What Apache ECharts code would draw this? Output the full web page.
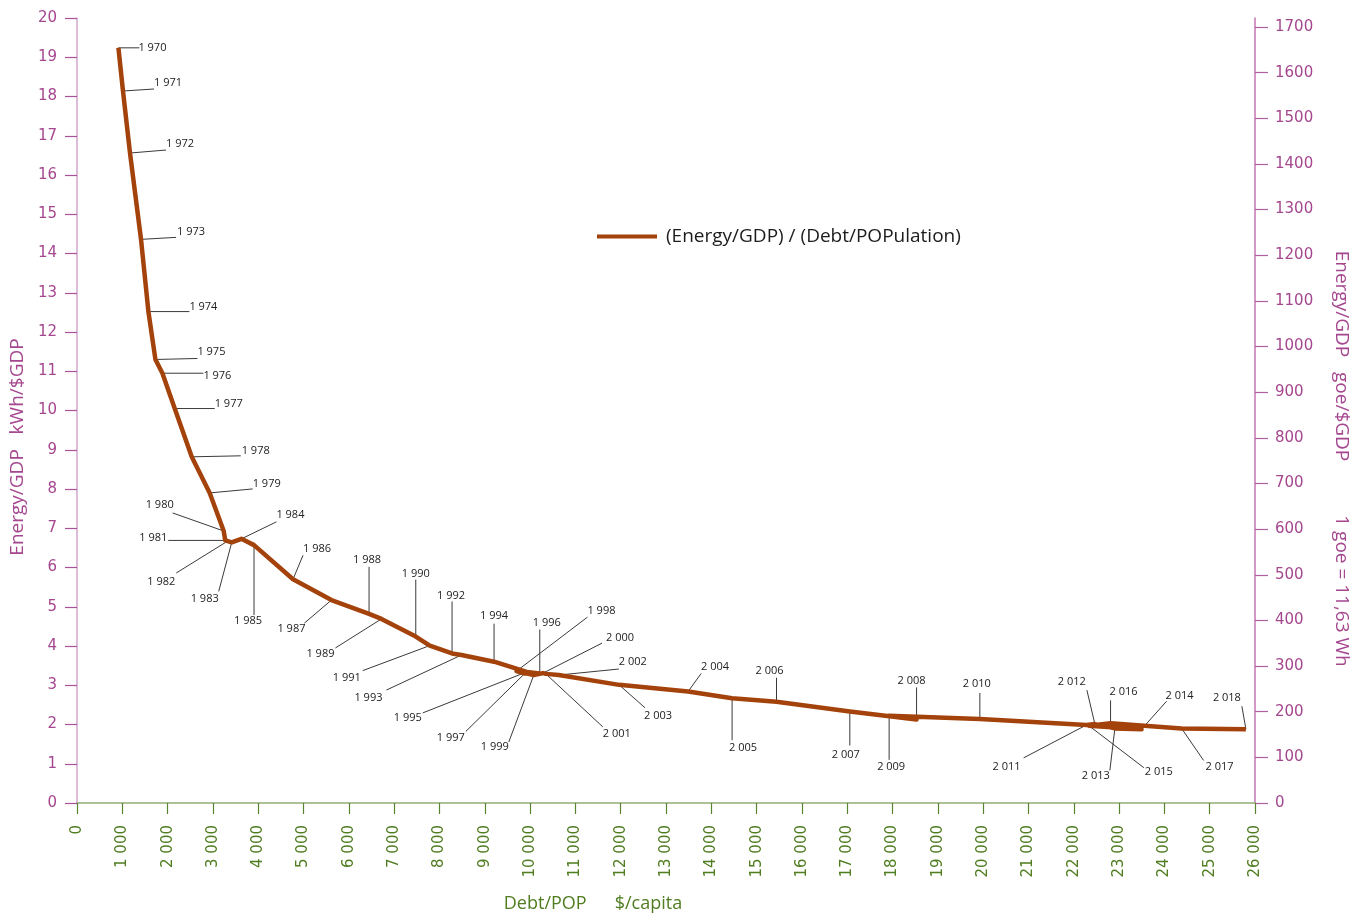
<!DOCTYPE html>
<html>
<head>
<meta charset="utf-8">
<script src="https://cdn.jsdelivr.net/npm/echarts@6/dist/echarts.min.js"></script>
<style>
  html, body { margin: 0; padding: 0; background: #ffffff; }
  #chart { width: 1367px; height: 918px; }
</style>
</head>
<body>
<div id="chart"></div>
<script>
// Yearly path: debt per capita ($) vs. energy intensity (kWh per $ of GDP)
const years = [
  1970, 1971, 1972, 1973, 1974, 1975, 1976, 1977, 1978, 1979,
  1980, 1981, 1982, 1983, 1984, 1985, 1986, 1987, 1988, 1989,
  1990, 1991, 1992, 1993, 1994, 1995, 1996, 1997, 1998, 1999,
  2000, 2001, 2002, 2003, 2004, 2005, 2006, 2007, 2008, 2009,
  2010, 2011, 2012, 2013, 2014, 2015, 2016, 2017, 2018
];

const debtPerCapita = [
  914, 1015, 1170, 1413, 1576, 1731, 1885, 2157, 2532, 2929,
  3238, 3272, 3294, 3415, 3629, 3907, 4768, 5616, 6446, 6720,
  7477, 7786, 8278, 8486, 9205, 9927, 10214, 9883, 9700, 10082,
  10287, 10347, 10634, 11965, 13488, 14459, 15439, 17057, 18530, 17925,
  19927, 22283, 22466, 22907, 23497, 22333, 22812, 24380, 25799
];

const energyPerGdp = [
  19.24, 18.14, 16.56, 14.36, 12.52, 11.30, 10.95, 10.05, 8.82, 7.90,
  6.93, 6.69, 6.65, 6.64, 6.73, 6.57, 5.70, 5.17, 4.82, 4.69,
  4.24, 4.01, 3.81, 3.77, 3.60, 3.34, 3.30, 3.30, 3.36, 3.26,
  3.31, 3.29, 3.26, 3.01, 2.84, 2.67, 2.58, 2.33, 2.13, 2.22,
  2.14, 1.99, 2.01, 1.90, 1.88, 1.97, 2.03, 1.90, 1.88
];

// Right-hand scale: 1 goe = 11.63 Wh
const WH_PER_GOE = 11.63;
const leftMax = 20;
const rightMax = leftMax * 1000 / WH_PER_GOE;
const rightTicks = [0, 100, 200, 300, 400, 500, 600, 700, 800, 900,
                    1000, 1100, 1200, 1300, 1400, 1500, 1600, 1700];

const seriesName = '(Energy/GDP) / (Debt/POPulation)';

// Year callouts, in pixels from the data point:
// [leader end dx, leader end dy, text centre dx, text centre dy]
const yearLabelOffsets = [
  [21, 0, 34, 0], [31, -2, 45, -8], [36, -3, 50, -9], [35, -2, 50, -8], [41, 0, 55, -5],
  [42, -1, 56, -8], [41, 0, 55, 3], [40, 0, 54, -5], [49, -1, 64, -6], [43, -4, 57, -9],
  [-51, -18, -64, -26], [-57, 0, -72, -3], [-50, 31, -65, 40], [-13, 49, -27, 56], [35, -17, 49, -24],
  [0, 70, -6, 76], [10, -24, 24, -30], [-27, 23, -40, 29], [0, -47, -2, -54], [-46, 29, -61, 35],
  [0, -57, 0, -63], [-67, 25, -83, 32], [0, -52, -1, -58], [-75, 35, -93, 43], [0, -38, 0, -46],
  [-104, 41, -119, 46], [0, -44, 7, -51], [-59, 58, -74, 64], [71, -54, 85, -60], [-25, 67, -39, 72],
  [59, -30, 77, -35], [57, 53, 71, 60], [60, -6, 74, -13], [26, 23, 39, 31], [13, -18, 27, -25],
  [0, 42, 11, 50], [0, -24, -7, -31], [0, 34, -4, 43], [0, -32, -5, -39], [0, 44, 2, 51],
  [0, -26, -3, -35], [-63, 33, -80, 42], [-8, -34, -23, -42], [-5, 42, -19, 47], [25, -28, 38, -33],
  [55, 42, 70, 46], [0, -23, 13, -31], [22, 32, 38, 38], [-4, -23, -19, -31]
];

const COLOR_LINE = '#a4420b';
const COLOR_PURPLE = '#a5478f';
const COLOR_GREEN = '#4f7d20';
const AXIS_FONT = '"DejaVu Sans", Verdana, sans-serif';
const TEXT_FONT = '"Open Sans", "Noto Sans", sans-serif';

function spaced(n) {
  return String(n).replace(/\B(?=(\d{3})+(?!\d))/g, ' ');
}

const points = years.map((_, i) => [debtPerCapita[i], energyPerGdp[i]]);

const chart = echarts.init(document.getElementById('chart'), null, { renderer: 'canvas' });

chart.setOption({
  animation: false,
  backgroundColor: '#ffffff',
  grid: { left: 77, right: 112, top: 18, bottom: 115, containLabel: false },
  legend: {
    data: [seriesName],
    left: 592,
    top: 222,
    icon: 'rect',
    itemWidth: 60,
    itemHeight: 4,
    textStyle: { color: '#1c1c1c', fontSize: 19, fontFamily: TEXT_FONT, padding: [0, 0, 0, 4] }
  },
  xAxis: {
    type: 'value',
    min: 0,
    max: 26000,
    interval: 1000,
    splitLine: { show: false },
    axisLine: { show: true, lineStyle: { color: '#93ad78', width: 1.5 } },
    axisTick: { show: true, length: 11, lineStyle: { color: '#5a8530', width: 1.2 } },
    axisLabel: {
      rotate: 90,
      margin: 22,
      color: COLOR_GREEN,
      fontSize: 15,
      fontFamily: AXIS_FONT,
      formatter: v => spaced(v)
    }
  },
  yAxis: [
    {
      type: 'value',
      position: 'left',
      min: 0,
      max: leftMax,
      interval: 1,
      splitLine: { show: false },
      axisLine: { show: true, lineStyle: { color: '#d3a6cb', width: 1.5 } },
      axisTick: { show: true, length: 12, lineStyle: { color: '#a8509a', width: 1.2 } },
      axisLabel: { margin: 20, color: COLOR_PURPLE, fontSize: 15, fontFamily: AXIS_FONT, formatter: v => String(v) }
    },
    {
      type: 'value',
      position: 'right',
      min: 0,
      max: rightMax,
      interval: 100,
      alignTicks: false,
      splitLine: { show: false },
      axisLine: { show: true, lineStyle: { color: '#c476b3', width: 1.5 } },
      axisTick: { show: true, length: 13, customValues: rightTicks, lineStyle: { color: '#b060a0', width: 1.2 } },
      axisLabel: {
        margin: 20, color: COLOR_PURPLE, fontSize: 15, fontFamily: AXIS_FONT,
        customValues: rightTicks, formatter: v => String(Math.round(v))
      }
    }
  ],
  graphic: [
    {
      type: 'text', x: 18, y: 447, rotation: Math.PI / 2,
      style: { text: 'Energy/GDP   kWh/$GDP', fill: COLOR_PURPLE, font: '19px ' + TEXT_FONT, align: 'center', verticalAlign: 'middle' }
    },
    {
      type: 'text', x: 1341, y: 356, rotation: -Math.PI / 2,
      style: { text: 'Energy/GDP   goe/$GDP', fill: COLOR_PURPLE, font: '19px ' + TEXT_FONT, align: 'center', verticalAlign: 'middle' }
    },
    {
      type: 'text', x: 1341, y: 591, rotation: -Math.PI / 2,
      style: { text: '1 goe = 11,63 Wh', fill: COLOR_PURPLE, font: '19px ' + TEXT_FONT, align: 'center', verticalAlign: 'middle' }
    },
    {
      type: 'text', x: 593, y: 904,
      style: { text: 'Debt/POP      $/capita', fill: COLOR_GREEN, font: '18px ' + TEXT_FONT, align: 'center', verticalAlign: 'middle' }
    }
  ],
  series: [
    {
      name: 'years',
      type: 'custom',
      xAxisIndex: 0,
      yAxisIndex: 0,
      clip: false,
      z: 1,
      silent: true,
      data: points,
      encode: { x: 0, y: 1 },
      renderItem: function (params, api) {
        const p = api.coord([api.value(0), api.value(1)]);
        const o = yearLabelOffsets[params.dataIndex];
        return {
          type: 'group',
          children: [
            {
              type: 'line',
              shape: { x1: p[0], y1: p[1], x2: p[0] + o[0], y2: p[1] + o[1] },
              style: { stroke: '#3a3a3a', lineWidth: 1 }
            },
            {
              type: 'text',
              x: p[0] + o[2],
              y: p[1] + o[3],
              style: {
                text: spaced(years[params.dataIndex]),
                fill: '#222222',
                font: '11px ' + TEXT_FONT,
                align: 'center',
                verticalAlign: 'middle'
              }
            }
          ]
        };
      }
    },
    {
      name: seriesName,
      type: 'line',
      xAxisIndex: 0,
      yAxisIndex: 0,
      z: 3,
      showSymbol: false,
      symbol: 'none',
      data: points,
      itemStyle: { color: COLOR_LINE },
      lineStyle: { color: COLOR_LINE, width: 4.5, join: 'round' }
    }
  ]
});
</script>
</body>
</html>
